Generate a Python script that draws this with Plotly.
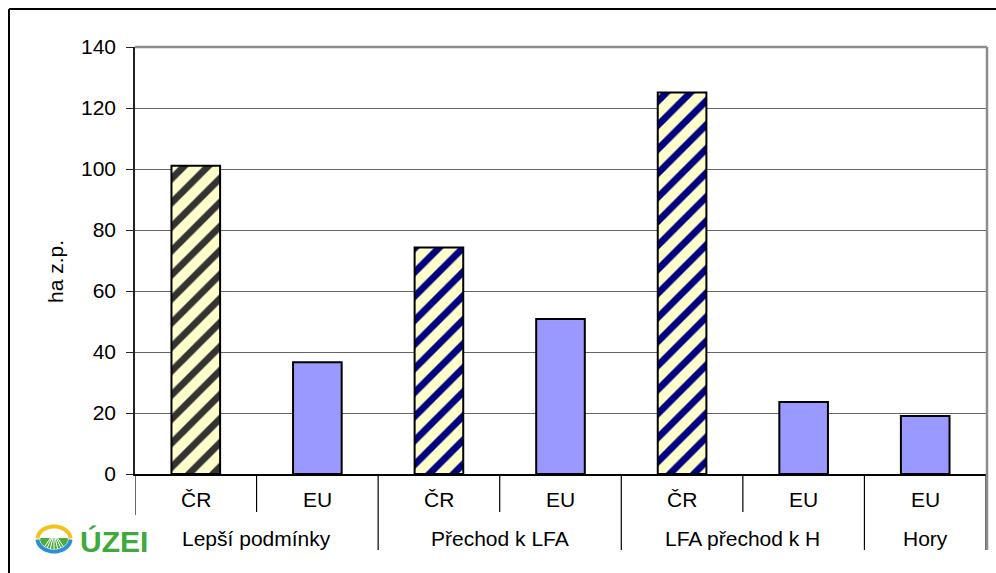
import math
import plotly.graph_objects as go

# ---- data -------------------------------------------------------------
groups = ["Lepší podmínky", "Přechod k LFA", "LFA přechod k H", "Hory"]
series_names = ["ČR", "EU"]
cr_values = [101.1, 74.3, 125.1, None]   # no ČR bar for "Hory"
eu_values = [36.6, 50.8, 23.6, 19.0]
cr_stripe_colors = ["#333333", "#000080", "#000080"]
y_ticks = [0, 20, 40, 60, 80, 100, 120, 140]
y_title = "ha z.p."
logo_text = "ÚZEI"

# ---- category keys (group / series) -----------------------------------
cats, cat_group, cat_series = [], [], []
for g, c, e in zip(groups, cr_values, eu_values):
    for s, v in zip(series_names, (c, e)):
        if v is not None:
            cats.append(f"{g} · {s}")
            cat_group.append(g)
            cat_series.append(s)

cr_x = [f"{g} · ČR" for g, v in zip(groups, cr_values) if v is not None]
cr_y = [v for v in cr_values if v is not None]
eu_x = [f"{g} · EU" for g, v in zip(groups, eu_values) if v is not None]
eu_y = [v for v in eu_values if v is not None]

FONT = "Liberation Sans, Arial, sans-serif"
LABEL_SIZE = 21
W, H = 996, 573
L, R, T, B = 135, 986, 47, 474


def px(x):
    return (x - L) / (R - L)


def py(y):
    return (B - y) / (B - T)


fig = go.Figure()
fig.add_trace(go.Bar(
    x=cr_x, y=cr_y, name="ČR", width=0.4,
    marker=dict(
        color="#FFFFCC",
        line=dict(color="black", width=2),
        pattern=dict(shape="/", fgcolor=cr_stripe_colors, bgcolor="#FFFFCC",
                     size=17, solidity=0.4, fillmode="replace"),
    ),
))
fig.add_trace(go.Bar(
    x=eu_x, y=eu_y, name="EU", width=0.4,
    marker=dict(color="#9999FF", line=dict(color="black", width=2)),
))

shapes = []
annotations = []

# boundaries between categories: short lines inside a group, long between groups
n = len(cats)
for i in range(n + 1):
    b = i - 0.5
    is_group_edge = (i == 0 or i == n or cat_group[i - 1] != cat_group[i])
    y_end = 550 if is_group_edge else 512
    shapes.append(dict(type="line", xref="x", yref="paper", x0=b, x1=b,
                       y0=0, y1=py(y_end), line=dict(color="black", width=1.2)))

# plot area frame: grey top and right edge
shapes.append(dict(type="line", xref="paper", yref="paper", x0=0, x1=px(987),
                   y0=1, y1=1, line=dict(color="#8C8C8C", width=2.5)))
shapes.append(dict(type="line", xref="paper", yref="paper", x0=px(987), x1=px(987),
                   y0=1, y1=py(550), line=dict(color="#8C8C8C", width=2.5)))

# outer chart frame (top and left)
shapes.append(dict(type="line", xref="paper", yref="paper", x0=px(9), x1=px(W + 5),
                   y0=py(9), y1=py(9), line=dict(color="black", width=2)))
shapes.append(dict(type="line", xref="paper", yref="paper", x0=px(9), x1=px(9),
                   y0=py(9), y1=py(H + 5), line=dict(color="black", width=2)))

# category labels
for c, s in zip(cats, cat_series):
    annotations.append(dict(x=c, xref="x", y=py(499), yref="paper", text=s,
                            showarrow=False, yanchor="middle",
                            font=dict(family=FONT, size=LABEL_SIZE, color="black")))
for g in groups:
    members = [i for i, cg in enumerate(cat_group) if cg == g]
    centre = (members[0] + members[-1]) / 2
    annotations.append(dict(x=centre, xref="x", y=py(538), yref="paper", text=g,
                            showarrow=False, yanchor="middle",
                            font=dict(family=FONT, size=LABEL_SIZE, color="black")))

# y axis title
annotations.append(dict(x=px(55), xref="paper", y=py(272), yref="paper", text=y_title,
                        textangle=-90, showarrow=False, xanchor="center", yanchor="middle",
                        font=dict(family=FONT, size=LABEL_SIZE, color="black")))

# ---- logo -------------------------------------------------------------
shapes.append(dict(type="rect", xref="paper", yref="paper", x0=px(28), x1=px(158),
                   y0=py(515), y1=py(567), fillcolor="white", line=dict(width=0)))

cx, cy, rx, ry = 54, 539, 16.5, 12.5


def arc(a0, a1, rxx, ryy, steps=30):
    pts = []
    for k in range(steps + 1):
        a = math.radians(a0 + (a1 - a0) * k / steps)
        pts.append((px(cx + rxx * math.cos(a)), py(cy - ryy * math.sin(a))))
    return pts


def path_of(pts, close=False):
    s = "M " + " L ".join(f"{x:.5f},{y:.5f}" for x, y in pts)
    return s + (" Z" if close else "")


# green field in the lower half
field = [(px(cx - rx + 3), py(cy - 1))] + arc(185, 355, rx - 2.5, ry - 2.5) + [(px(cx + rx - 3), py(cy - 1))]
shapes.append(dict(type="path", xref="paper", yref="paper", path=path_of(field, True),
                   fillcolor="#4DAA3F", line=dict(width=0)))
# furrows converging towards the horizon
for k in range(-3, 4):
    xb = cx + k * 4.2
    shapes.append(dict(type="line", xref="paper", yref="paper",
                       x0=px(cx + k * 1.2), y0=py(cy - 1), x1=px(xb), y1=py(cy + ry),
                       line=dict(color="white", width=1)))
# yellow upper rim and blue lower rim
shapes.append(dict(type="path", xref="paper", yref="paper", path=path_of(arc(178, 2, rx, ry)),
                   line=dict(color="#F3C21B", width=4)))
shapes.append(dict(type="path", xref="paper", yref="paper", path=path_of(arc(182, 358, rx, ry)),
                   line=dict(color="#2A8FD6", width=4)))

annotations.append(dict(x=px(78), xref="paper", y=py(541), yref="paper", text=f"<b>{logo_text}</b>",
                        showarrow=False, xanchor="left", yanchor="middle",
                        font=dict(family=FONT, size=30, color="#3DAA3A")))

fig.update_layout(
    width=W, height=H,
    margin=dict(l=L, r=W - R, t=T, b=H - B, pad=0),
    paper_bgcolor="white", plot_bgcolor="white",
    barmode="overlay", showlegend=False,
    xaxis=dict(type="category", categoryorder="array", categoryarray=cats,
               range=[-0.5, n - 0.5], showticklabels=False, ticks="",
               showgrid=False, zeroline=False,
               showline=True, linecolor="black", linewidth=2, fixedrange=True),
    yaxis=dict(range=[0, 140], tickvals=y_ticks, ticks="outside", ticklen=7,
               tickcolor="#222222", tickwidth=1.2, ticklabelstandoff=6,
               showgrid=True, gridcolor="#666666", gridwidth=1, zeroline=False,
               showline=True, linecolor="#222222", linewidth=1.5,
               tickfont=dict(family=FONT, size=LABEL_SIZE, color="black"), fixedrange=True),
    shapes=shapes, annotations=annotations,
)

fig.write_html("out.html")
